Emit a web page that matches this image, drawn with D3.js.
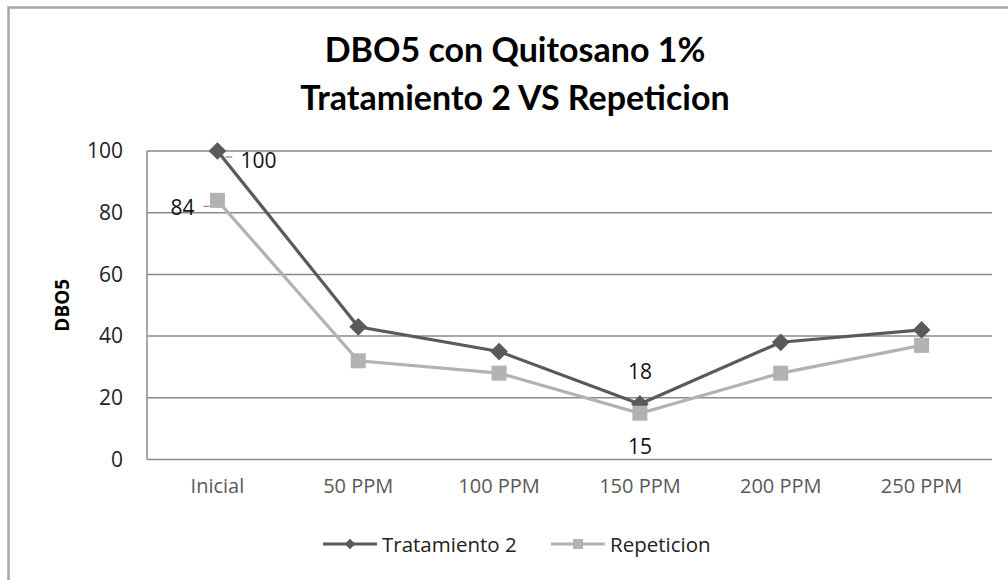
<!DOCTYPE html>
<html><head><meta charset="utf-8">
<script src="https://cdn.jsdelivr.net/npm/d3@7"></script>
<style>body{margin:0;background:#fff}svg{display:block}</style>
</head><body>
<script>
const categories = ["Inicial","50 PPM","100 PPM","150 PPM","200 PPM","250 PPM"];
const tratamiento2 = [100,43,35,18,38,42];
const repeticion = [84,32,28,15,28,37];
const yTicks = [0,20,40,60,80,100];
const seriesNames = ["Tratamiento 2","Repeticion"];
const titleLines = ["DBO5 con Quitosano 1%","Tratamiento 2 VS Repeticion"];
const yTitle = "DBO5";

const W=1008,H=580;
const svg=d3.select("body").append("svg").attr("width",W).attr("height",H);
svg.append("rect").attr("width",W).attr("height",H).attr("fill","#fff");
// outer frame
svg.append("path").attr("d",`M8.5,${H+5}V7.5H${W+5}`).attr("fill","none").attr("stroke","#a8a8a8").attr("stroke-width",2.5);

const plot={l:147,r:992,t:151,b:459.5};
const x=d3.scaleBand().domain(categories).range([plot.l,plot.r]);
const y=d3.scaleLinear().domain([0,100]).range([plot.b,plot.t]);
const font="'Open Sans', sans-serif";

// gridlines
svg.append("g").selectAll("line").data(yTicks).join("line")
 .attr("x1",plot.l).attr("x2",plot.r).attr("y1",d=>y(d)).attr("y2",d=>y(d))
 .attr("stroke","#8a8a8a").attr("stroke-width",1.5);
svg.append("line").attr("x1",plot.l).attr("x2",plot.l).attr("y1",plot.t).attr("y2",plot.b)
 .attr("stroke","#8a8a8a").attr("stroke-width",1.5);

// y axis
const ya=svg.append("g").attr("transform",`translate(${plot.l-24},0)`)
 .call(d3.axisLeft(y).tickValues(yTicks).tickSize(0).tickPadding(0));
ya.select(".domain").remove();
ya.selectAll("text").attr("font-family",font).attr("font-size",21).attr("fill","#222");

// x axis
const xa=svg.append("g").attr("transform",`translate(0,${plot.b+15})`)
 .call(d3.axisBottom(x).tickSize(0).tickPadding(0));
xa.select(".domain").remove();
xa.selectAll("text").attr("font-family",font).attr("font-size",20).attr("fill","#595959").attr("dy","0.9em");

// titles
svg.append("g").selectAll("text").data(titleLines).join("text")
 .attr("x",515).attr("y",(d,i)=>62+i*48).attr("text-anchor","middle")
 .attr("font-family","Lato, sans-serif").attr("font-weight","bold").attr("font-size",34).attr("fill","#000")
 .text(d=>d);
svg.append("text").attr("transform",`translate(69,${(plot.t+plot.b)/2}) rotate(-90)`)
 .attr("text-anchor","middle").attr("font-family",font).attr("font-weight","bold").attr("font-size",19).attr("fill","#000").text(yTitle);

const cx=d=>x(d)+x.bandwidth()/2;
const line=d3.line().x((d,i)=>cx(categories[i])).y(d=>y(d));
const dark="#5a5a5a", light="#b2b2b2";

svg.append("path").datum(tratamiento2).attr("d",line).attr("fill","none").attr("stroke",dark).attr("stroke-width",3.2);
svg.append("g").selectAll("path").data(tratamiento2).join("path")
 .attr("d",d3.symbol(d3.symbolDiamond2,200)).attr("transform",(d,i)=>`translate(${cx(categories[i])},${y(d)})`).attr("fill",dark);

svg.append("path").datum(repeticion).attr("d",line).attr("fill","none").attr("stroke",light).attr("stroke-width",3.2);
svg.append("g").selectAll("rect").data(repeticion).join("rect")
 .attr("x",(d,i)=>cx(categories[i])-7.5).attr("y",d=>y(d)-7.5).attr("width",15).attr("height",15).attr("fill",light);

// data labels
const lab=(txt,xx,yy,anchor)=>svg.append("text").attr("x",xx).attr("y",yy).attr("text-anchor",anchor)
 .attr("dominant-baseline","central").attr("font-family",font).attr("font-size",21).attr("fill","#111").text(txt);
const x0=cx(categories[0]), x3=cx(categories[3]);
svg.append("line").attr("x1",x0+8).attr("x2",x0+15).attr("y1",y(tratamiento2[0])+6).attr("y2",y(tratamiento2[0])+6).attr("stroke","#888").attr("stroke-width",1.2);
lab(tratamiento2[0],x0+23,y(tratamiento2[0])+9,"start");
svg.append("line").attr("x1",x0-14).attr("x2",x0-8).attr("y1",y(repeticion[0])+6).attr("y2",y(repeticion[0])+6).attr("stroke","#888").attr("stroke-width",1.2);
lab(repeticion[0],x0-23,y(repeticion[0])+7,"end");
lab(tratamiento2[3],x3,y(tratamiento2[3])-33,"middle");
lab(repeticion[3],x3,y(repeticion[3])+33,"middle");

// legend
const lg=svg.append("g");
const items=[{n:seriesNames[0],c:dark,s:"d",x1:323},{n:seriesNames[1],c:light,s:"s",x1:551}];
items.forEach(it=>{
  lg.append("line").attr("x1",it.x1).attr("x2",it.x1+54).attr("y1",544).attr("y2",544).attr("stroke",it.c).attr("stroke-width",3);
  if(it.s==="d") lg.append("path").attr("d",d3.symbol(d3.symbolDiamond2,70)).attr("transform",`translate(${it.x1+27},544)`).attr("fill",it.c);
  else lg.append("rect").attr("x",it.x1+22).attr("y",539).attr("width",10).attr("height",10).attr("fill",it.c);
  lg.append("text").attr("x",it.x1+59).attr("y",544).attr("dominant-baseline","central").attr("font-family",font).attr("font-size",20.5).attr("fill","#222").text(it.n);
});
</script>
</body></html>
